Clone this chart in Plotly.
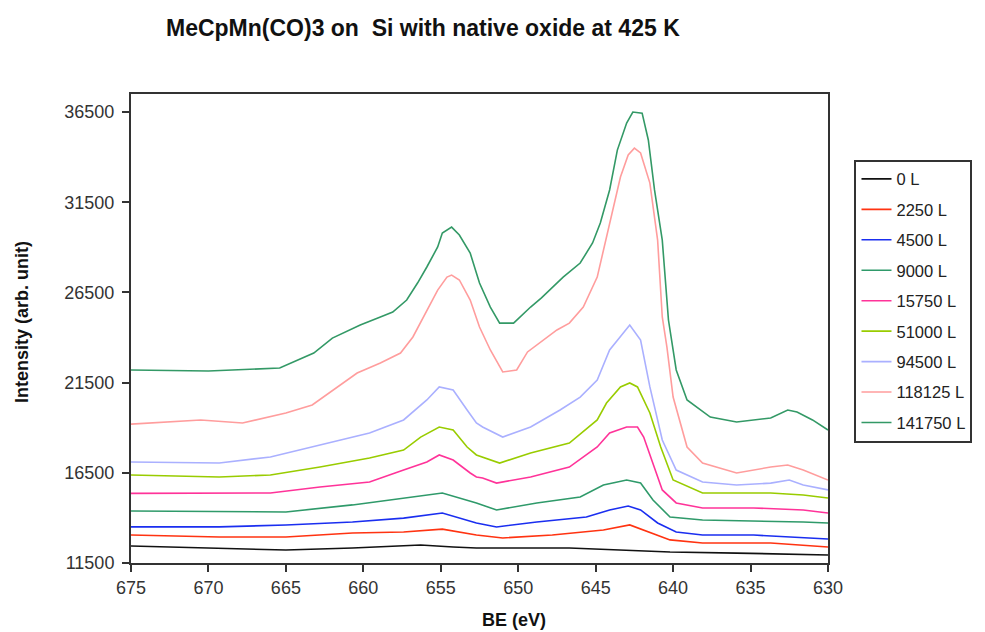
import plotly.graph_objects as go

# ---- data (BE in eV, intensity in arb. units) ----
series_names = ["0 L", "2250 L", "4500 L", "9000 L", "15750 L",
                "51000 L", "94500 L", "118125 L", "141750 L"]
series_colors = ["#111111", "#ff3311", "#1a2ef0", "#2f9a6a", "#ff3399",
                 "#99cc00", "#aab0ff", "#ff9d9d", "#339966"]

be_0 = [675, 669.3, 665, 660.7, 656.3, 654.2, 652.7, 646.7, 640.2, 635.9, 630]
int_0 = [12440, 12330, 12220, 12330, 12500, 12390, 12330, 12330, 12110, 12050, 11940]

be_2250 = [675, 669.3, 665, 660.7, 657.4, 654.9, 652.7, 651, 647.8, 644.5, 642.8, 641.9,
           640.2, 638.1, 633.7, 630]
int_2250 = [13050, 12940, 12940, 13160, 13220, 13380, 13050, 12890, 13050, 13330, 13610,
            13330, 12780, 12610, 12610, 12390]

be_4500 = [675, 669.3, 665, 660.7, 657.4, 654.9, 652.7, 651.4, 648.8, 645.6, 644.1, 642.9,
           642.1, 641, 639.8, 638.1, 634.8, 631.6, 630]
int_4500 = [13500, 13500, 13610, 13770, 13990, 14270, 13720, 13500, 13770, 14050, 14440,
            14660, 14440, 13720, 13220, 13050, 13050, 12890, 12830]

be_9000 = [675, 669.3, 665, 660.7, 657.4, 654.9, 652.7, 651.4, 648.8, 646, 644.5, 643,
           642.1, 641.3, 640.2, 638.1, 631.6, 630]
int_9000 = [14380, 14330, 14330, 14720, 15100, 15380, 14830, 14440, 14830, 15160, 15820,
            16100, 15930, 14990, 14050, 13880, 13770, 13720]

be_15750 = [675, 669.3, 666, 662.8, 659.6, 657.4, 655.9, 655.1, 654.2, 653.1, 652.7, 652.3,
            651.4, 649.2, 646.7, 644.9, 644.1, 643, 642.3, 641.9, 641.3, 640.7, 639.8,
            638.1, 634.8, 631.6, 630]
int_15750 = [15360, 15380, 15380, 15710, 15990, 16650, 17100, 17490, 17210, 16490, 16270,
             16210, 15930, 16270, 16820, 17930, 18710, 19040, 19040, 18480, 17040, 15550,
             14830, 14550, 14550, 14440, 14270]

be_51000 = [675, 669.3, 666, 662.8, 659.6, 657.4, 656.3, 655.1, 654.2, 653.3, 652.7, 652.3,
            651.2, 649.2, 646.7, 644.9, 644.3, 643.4, 642.8, 642.3, 641.5, 640.8, 640,
            638.1, 635.9, 633.7, 631.6, 630]
int_51000 = [16380, 16270, 16380, 16820, 17320, 17760, 18480, 19040, 18870, 17930, 17490,
             17380, 17040, 17600, 18150, 19430, 20370, 21260, 21480, 21260, 19820, 17930,
             16100, 15380, 15380, 15380, 15270, 15100]

be_94500 = [675, 669.3, 666, 662.8, 659.6, 657.4, 655.9, 655.1, 654.2, 653.3, 652.7, 652.3,
            651, 649.2, 647.3, 646, 644.9, 644.1, 643.2, 642.8, 642.1, 641.5, 640.7, 639.8,
            638.1, 635.9, 633.7, 632.5, 631.6, 630]
int_94500 = [17100, 17040, 17380, 18040, 18710, 19430, 20540, 21260, 21090, 19980, 19260,
             19040, 18480, 19040, 19980, 20700, 21640, 23310, 24300, 24690, 23860, 21260,
             18320, 16650, 15990, 15820, 15930, 16100, 15820, 15550]

be_118125 = [675, 670.5, 667.8, 665, 663.3, 660.4, 658.9, 657.6, 656.8, 655.9, 655.2, 654.6,
             654.3, 653.8, 653.1, 652.5, 651.8, 651, 650.1, 649.4, 647.5, 646.7, 645.8,
             644.9, 644.1, 643.4, 642.9, 642.5, 642.1, 641.5, 641, 640.7, 640.4, 640,
             639.1, 638.1, 635.9, 633.7, 632.6, 631.6, 630]
int_118125 = [19200, 19430, 19260, 19820, 20260, 22030, 22590, 23140, 24030, 25520, 26630,
              27350, 27460, 27190, 26080, 24580, 23310, 22090, 22200, 23200, 24420, 24800,
              25690, 27350, 30350, 32900, 34120, 34500, 34230, 32560, 29400, 25140, 23470,
              20700, 17930, 17040, 16490, 16820, 16930, 16650, 16100]

be_141750 = [675, 670, 665.4, 663.2, 662, 660.2, 658.9, 658.1, 657.2, 656.5, 655.9, 655.2,
             654.9, 654.3, 653.8, 653.1, 652.5, 651.8, 651.2, 650.3, 649.2, 648.5, 647.1,
             646, 645.2, 644.7, 644.1, 643.6, 643, 642.6, 642, 641.6, 641.2, 640.7, 640.3,
             639.8, 639.1, 637.6, 635.9, 633.7, 632.6, 632, 631, 630]
int_141750 = [22200, 22140, 22310, 23140, 23970, 24690, 25140, 25410, 26080, 27020, 27910,
              29020, 29790, 30120, 29680, 28680, 27020, 25690, 24800, 24800, 25690, 26200,
              27350, 28130, 29240, 30350, 32180, 34390, 35890, 36500, 36440, 34950, 32180,
              29400, 24970, 22200, 20540, 19590, 19320, 19540, 19980, 19870, 19430, 18870]

x_ticks = [675, 670, 665, 660, 655, 650, 645, 640, 635, 630]
y_ticks = [11500, 16500, 21500, 26500, 31500, 36500]

title_text = "MeCpMn(CO)3 on\u00a0 Si with native oxide at 425 K"
x_title = "BE (eV)"
y_title = "Intensity (arb. unit)"

all_be = [be_0, be_2250, be_4500, be_9000, be_15750, be_51000, be_94500, be_118125, be_141750]
all_int = [int_0, int_2250, int_4500, int_9000, int_15750, int_51000, int_94500, int_118125,
           int_141750]

FONT = "Arial, Liberation Sans, Helvetica, sans-serif"

fig = go.Figure()
for i, (name, color, xs, ys) in enumerate(zip(series_names, series_colors, all_be, all_int)):
    fig.add_trace(go.Scatter(
        x=xs, y=ys, mode="lines", name=name, legendgroup=f"g{i}",
        line=dict(color=color, width=1.6),
    ))

# the page body has an 8px default margin, so the figure is 8px smaller
fig.update_layout(
    width=977, height=624,
    margin=dict(l=123, r=157, t=86, b=69, autoexpand=False),
    paper_bgcolor="white", plot_bgcolor="white",
    font=dict(family=FONT, size=18, color="#333333"),
    showlegend=True,
    legend=dict(
        x=1.038, xanchor="left", y=0.86, yanchor="top",
        bgcolor="white", bordercolor="#333333", borderwidth=2,
        font=dict(family=FONT, size=16.5, color="#222222"),
        tracegroupgap=6, itemwidth=30,
    ),
    xaxis=dict(
        range=[675, 630], tickmode="array", tickvals=x_ticks,
        ticktext=[str(v) for v in x_ticks],
        showgrid=False, zeroline=False,
        showline=True, linecolor="#333333", linewidth=2, mirror=True,
        ticks="outside", ticklen=7, tickwidth=2, tickcolor="#333333",
        tickfont=dict(family=FONT, size=18, color="#333333"),
    ),
    yaxis=dict(
        range=[11500, 37500], tickmode="array", tickvals=y_ticks,
        ticktext=[str(v) for v in y_ticks],
        showgrid=False, zeroline=False,
        showline=True, linecolor="#333333", linewidth=2, mirror=True,
        ticks="outside", ticklen=7, tickwidth=2, tickcolor="#333333",
        tickfont=dict(family=FONT, size=18, color="#333333"),
        ticklabelstandoff=4,
    ),
    annotations=[
        dict(text=f"<b>{title_text}</b>", xref="paper", yref="paper",
             x=(423 - 131) / 697, y=1 + (94 - 28) / 469, xanchor="center", yanchor="middle",
             showarrow=False, font=dict(family=FONT, size=23, color="#111111")),
        dict(text=f"<b>{x_title}</b>", xref="paper", yref="paper",
             x=(514 - 131) / 697, y=-(620 - 563) / 469, xanchor="center", yanchor="middle",
             showarrow=False, font=dict(family=FONT, size=18, color="#111111")),
        dict(text=f"<b>{y_title}</b>", xref="paper", yref="paper",
             x=-(131 - 22) / 697, y=(563 - 322) / 469, xanchor="center", yanchor="middle",
             textangle=-90, showarrow=False, font=dict(family=FONT, size=18, color="#111111")),
    ],
)

fig.write_html("out.html")
